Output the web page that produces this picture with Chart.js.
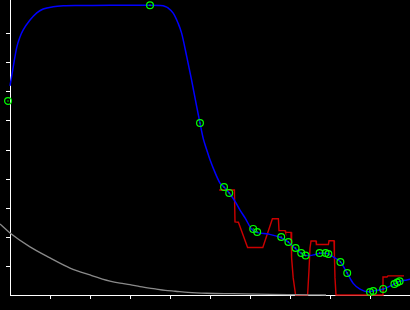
<!DOCTYPE html>
<html>
<head>
<meta charset="utf-8">
<script src="https://cdn.jsdelivr.net/npm/chart.js@4/dist/chart.umd.min.js"></script>
<style>
  html, body { margin: 0; padding: 0; background: #000; }
  #wrap { width: 410px; height: 310px; position: relative; }
</style>
</head>
<body>
<div id="wrap"><canvas id="plot"></canvas></div>
<script>
// tick positions (no labels in the picture)
var xTicks = [1, 2, 3, 4, 5, 6, 7, 8, 9];
var yTicks = [1, 2, 3, 4, 5, 6, 7, 8, 9];

// smooth blue curve
var blueX = [0, 0.08, 0.17, 0.25, 0.33, 0.5, 0.67, 0.83, 1.08, 1.33, 1.75, 2.5, 3.5, 3.75, 3.88, 3.95,
             4.08, 4.2, 4.29, 4.42, 4.54, 4.67, 4.75, 4.83, 4.92, 5.0, 5.13, 5.25, 5.36, 5.48, 5.63, 5.75,
             5.88, 6.04, 6.17, 6.46, 6.75, 6.96, 7.08, 7.28, 7.39, 7.5, 7.63, 7.75, 7.9, 7.98, 8.13, 8.27,
             8.43, 8.58, 8.75, 8.96, 9.07, 9.32, 9.61, 9.73, 9.92, 10];
var blueY = [7.21, 7.86, 8.55, 8.9, 9.14, 9.48, 9.73, 9.86, 9.94, 9.97, 9.98, 9.99, 9.99, 9.98, 9.95, 9.9,
             9.72, 9.38, 9.03, 8.21, 7.41, 6.48, 5.93, 5.4, 5.0, 4.66, 4.21, 3.86, 3.71, 3.52, 3.22, 2.93,
             2.65, 2.27, 2.16, 2.1, 1.99, 1.82, 1.67, 1.44, 1.36, 1.36, 1.4, 1.44, 1.44, 1.4, 1.27, 1.13,
             0.75, 0.4, 0.2, 0.11, 0.14, 0.2, 0.38, 0.46, 0.52, 0.54];

// red step line
var redX = [5.23, 5.61, 5.625, 5.71, 5.94, 6.32, 6.56, 6.71, 6.725, 6.875, 6.89, 7.025, 7.04, 7.08, 7.14, 7.44,
            7.475, 7.5, 7.525, 7.65, 7.66, 7.96, 7.975, 8.1, 8.11, 8.125, 8.15, 9.3, 9.325, 9.425, 9.45, 9.85];
var redY = [3.62, 3.62, 2.52, 2.51, 1.64, 1.64, 2.63, 2.63, 2.22, 2.22, 2.16, 2.16, 1.28, 0.59, 0, 0,
            0.86, 1.62, 1.86, 1.86, 1.74, 1.74, 1.87, 1.87, 1.38, 0.59, 0, 0, 0.62, 0.62, 0.66, 0.66];

// grey decaying curve
var grayX = [-0.25, 0, 0.5, 1, 1.5, 2, 2.5, 2.75, 3, 3.25, 3.63, 3.88, 4.13, 4.45, 4.92, 5.57, 6.5, 7.0, 7.5, 7.9];
var grayY = [2.45, 2.14, 1.66, 1.28, 0.93, 0.69, 0.48, 0.41, 0.36, 0.29, 0.21, 0.16, 0.13, 0.09, 0.06, 0.045, 0.025, 0.015, 0.005, 0];

// green sample points
var greenX = [-0.05, 3.5, 4.75, 5.35, 5.48, 6.08, 6.18, 6.78, 6.96, 7.14, 7.28, 7.39, 7.74, 7.89, 7.96, 8.26,
              8.43, 9.0, 9.08, 9.33, 9.61, 9.68, 9.74];
var greenY = [6.69, 9.99, 5.93, 3.72, 3.52, 2.28, 2.17, 2.0, 1.83, 1.62, 1.45, 1.36, 1.45, 1.45, 1.41, 1.14,
              0.76, 0.1, 0.14, 0.21, 0.38, 0.43, 0.47];

function pts(xs, ys) {
  return xs.map(function (x, i) { return { x: x, y: ys[i] }; });
}

var ctx = document.getElementById('plot').getContext('2d');
var chart = new Chart(ctx, {
  type: 'line',
  data: {
    datasets: [
      {
        // centre dots of the circles
        data: pts(greenX, greenY),
        showLine: false,
        pointRadius: 0.7,
        pointBorderWidth: 0,
        pointBackgroundColor: '#00ff00',
        clip: false
      },
      {
        data: pts(greenX, greenY),
        showLine: false,
        pointStyle: 'circle',
        pointRadius: 3.4,
        pointBorderWidth: 1.2,
        pointBorderColor: '#00ff00',
        pointBackgroundColor: 'rgba(0,0,0,0)',
        clip: false
      },
      {
        data: pts(grayX, grayY),
        borderColor: '#8a8a8a',
        borderWidth: 1.3,
        pointRadius: 0,
        cubicInterpolationMode: 'monotone',
        clip: false
      },
      {
        data: pts(blueX, blueY),
        borderColor: '#0000ff',
        borderWidth: 1.5,
        pointRadius: 0,
        cubicInterpolationMode: 'monotone',
        clip: false
      },
      {
        data: pts(redX, redY),
        borderColor: '#cc0000',
        borderWidth: 1.4,
        pointRadius: 0,
        tension: 0,
        clip: false
      }
    ]
  },
  options: {
    responsive: true,
    maintainAspectRatio: false,
    animation: false,
    layout: { padding: 0, autoPadding: false },
    plugins: { legend: { display: false }, tooltip: { enabled: false } },
    scales: {
      x: {
        type: 'linear',
        min: 0,
        max: 10,
        afterBuildTicks: function (s) { s.ticks = xTicks.map(function (v) { return { value: v }; }); },
        afterFit: function (s) { s.height = 15; },
        ticks: { display: false },
        grid: { drawOnChartArea: false, drawTicks: true, tickLength: 4, tickColor: '#ffffff', tickWidth: 1 },
        border: { display: true, color: '#ffffff', width: 1 }
      },
      y: {
        type: 'linear',
        min: 0,
        max: 295 / 29,
        afterBuildTicks: function (s) { s.ticks = yTicks.map(function (v) { return { value: v }; }); },
        afterFit: function (s) { s.width = 10; },
        ticks: { display: false },
        grid: { drawOnChartArea: false, drawTicks: true, tickLength: 4, tickColor: '#ffffff', tickWidth: 1 },
        border: { display: true, color: '#ffffff', width: 1 }
      }
    }
  }
});
</script>
</body>
</html>
